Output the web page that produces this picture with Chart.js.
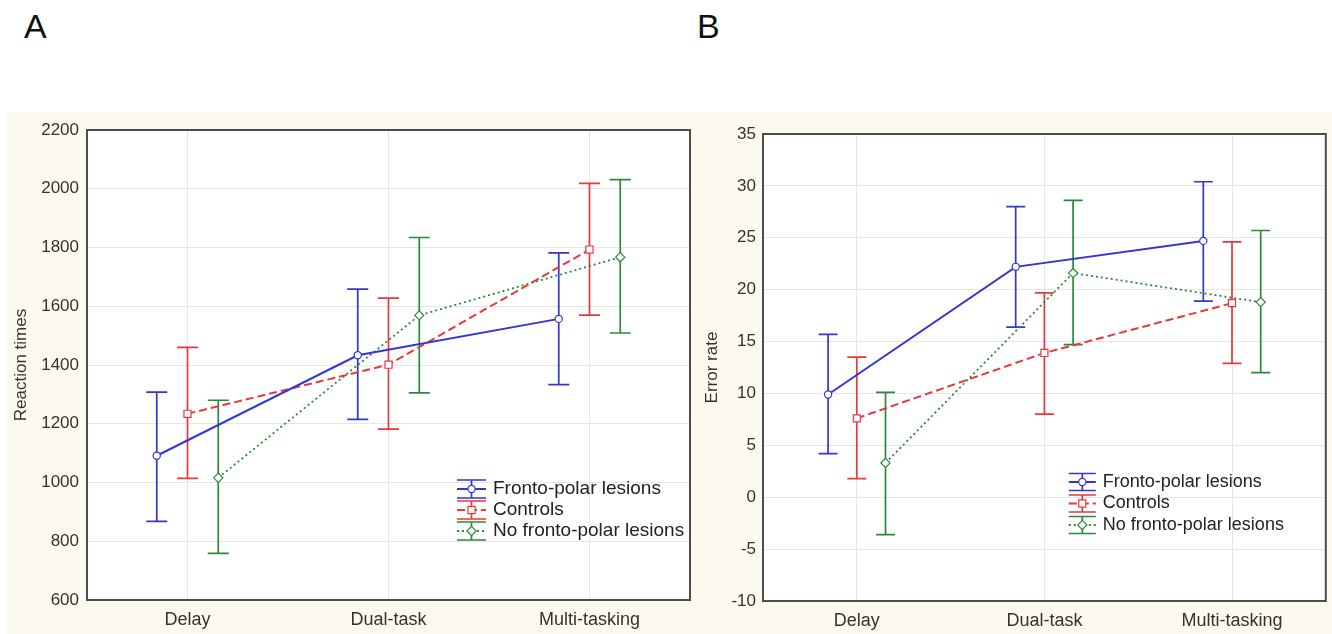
<!DOCTYPE html>
<html>
<head>
<meta charset="utf-8">
<script src="https://cdn.jsdelivr.net/npm/chart.js@4.4.1/dist/chart.umd.min.js"></script>
<style>
    html, body { margin: 0; padding: 0; background: #fff; }
    body { width: 1332px; height: 634px; position: relative; overflow: hidden; font-family: 'Liberation Sans', Arial, sans-serif; }
    .panel-bg { position: absolute; top: 112px; left: 7px; width: 1325px; height: 522px; background: #fcf9ee; }
    .letter { position: absolute; top: 6px; font-size: 34px; line-height: 40px; color: #111; }
    canvas { position: absolute; }
</style>
</head>
<body>
<div class="panel-bg"></div>
<div class="letter" style="left:24px">A</div>
<div class="letter" style="left:697px">B</div>
<canvas id="chartA" width="702" height="534" style="left:0;top:100px"></canvas>
<canvas id="chartB" width="632" height="534" style="left:700px;top:100px"></canvas>

<script>
// --- Data ---
const categories = ['Delay', 'Dual-task', 'Multi-tasking'];
const seriesNames = ['Fronto-polar lesions', 'Controls', 'No fronto-polar lesions'];

// A: reaction times (mean / lower / upper of the bar)
const rtFrontoMean  = [1091, 1433, 1557];
const rtFrontoLow   = [868, 1215, 1333];
const rtFrontoHigh  = [1308, 1658, 1782];
const rtControlMean = [1234, 1401, 1793];
const rtControlLow  = [1014, 1182, 1570];
const rtControlHigh = [1460, 1628, 2018];
const rtNoFpMean    = [1016, 1569, 1767];
const rtNoFpLow     = [759, 1305, 1509];
const rtNoFpHigh    = [1280, 1834, 2031];
const rtTicks = [600, 800, 1000, 1200, 1400, 1600, 1800, 2000, 2200];

// B: error rate
const erFrontoMean  = [9.9, 22.2, 24.7];
const erFrontoLow   = [4.2, 16.4, 18.9];
const erFrontoHigh  = [15.7, 28.0, 30.4];
const erControlMean = [7.6, 13.9, 18.7];
const erControlLow  = [1.8, 8.0, 12.9];
const erControlHigh = [13.5, 19.7, 24.6];
const erNoFpMean    = [3.3, 21.6, 18.8];
const erNoFpLow     = [-3.6, 14.7, 12.0];
const erNoFpHigh    = [10.1, 28.6, 25.7];
const erTicks = [-10, -5, 0, 5, 10, 15, 20, 25, 30, 35];

// --- Styles ---
const seriesShift = [-0.153, 0, 0.153];
const seriesStyle = [
    { color: '#3535d2', dash: [], marker: 'circle', radius: 3.6, width: 2 },
    { color: '#e5393c', dash: [8, 4], marker: 'rect', radius: 5, width: 2 },
    { color: '#2a8a3a', dash: [2, 3], marker: 'rectRot', radius: 4.6, width: 1.8 }
];

Chart.defaults.font.family = "'Liberation Sans', Arial, sans-serif";
Chart.defaults.font.size = 17;
Chart.defaults.color = '#333';

function drawMarker(ctx, style, r, x, y) {
    ctx.beginPath();
    if (style === 'circle') {
        ctx.arc(x, y, r, 0, Math.PI * 2);
    } else if (style === 'rect') {
        const s = r * Math.SQRT1_2;
        ctx.rect(x - s, y - s, 2 * s, 2 * s);
    } else {
        ctx.moveTo(x, y - r); ctx.lineTo(x + r, y); ctx.lineTo(x, y + r); ctx.lineTo(x - r, y); ctx.closePath();
    }
    ctx.fill();
    ctx.stroke();
}

// white plot area + dark frame
const plotFrame = {
    id: 'plotFrame',
    beforeDraw(chart) {
        const { ctx, chartArea: a } = chart;
        ctx.save();
        ctx.fillStyle = '#fff';
        ctx.fillRect(a.left, a.top, a.right - a.left, a.bottom - a.top);
        ctx.restore();
    },
    afterDraw(chart) {
        const { ctx, chartArea: a } = chart;
        ctx.save();
        ctx.strokeStyle = '#4d4d4d';
        ctx.lineWidth = 2;
        ctx.strokeRect(a.left, a.top, a.right - a.left, a.bottom - a.top);
        ctx.restore();
    }
};

// vertical error bars with caps
const errorBars = {
    id: 'errorBars',
    beforeDatasetsDraw(chart, args, opts) {
        const ctx = chart.ctx, ys = chart.scales.y;
        chart.data.datasets.forEach((ds, i) => {
            const meta = chart.getDatasetMeta(i);
            ctx.save();
            ctx.strokeStyle = ds.borderColor;
            ctx.lineWidth = 1.7;
            meta.data.forEach((pt, j) => {
                const top = ys.getPixelForValue(ds.errHigh[j]);
                const bot = ys.getPixelForValue(ds.errLow[j]);
                const hw = opts.cap / 2;
                ctx.beginPath();
                ctx.moveTo(pt.x, top); ctx.lineTo(pt.x, bot);
                ctx.moveTo(pt.x - hw, top); ctx.lineTo(pt.x + hw, top);
                ctx.moveTo(pt.x - hw, bot); ctx.lineTo(pt.x + hw, bot);
                ctx.stroke();
            });
            ctx.restore();
        });
    }
};

// legend with error-bar glyphs
const glyphLegend = {
    id: 'glyphLegend',
    afterDraw(chart, args, o) {
        const ctx = chart.ctx, a = chart.chartArea;
        chart.data.datasets.forEach((ds, i) => {
            const st = seriesStyle[i];
            const cy = a.bottom + o.top + i * o.gap;
            const x0 = a.right - o.fromRight, x1 = x0 + o.symbolWidth, cx = (x0 + x1) / 2;
            ctx.save();
            ctx.strokeStyle = st.color;
            ctx.lineWidth = 1.7;
            ctx.beginPath();
            ctx.moveTo(cx, cy - o.half); ctx.lineTo(cx, cy + o.half);
            ctx.moveTo(x0, cy - o.half); ctx.lineTo(x1, cy - o.half);
            ctx.moveTo(x0, cy + o.half); ctx.lineTo(x1, cy + o.half);
            ctx.stroke();
            ctx.setLineDash(st.dash);
            ctx.lineWidth = st.width;
            ctx.beginPath(); ctx.moveTo(x0, cy); ctx.lineTo(x1, cy); ctx.stroke();
            ctx.setLineDash([]);
            ctx.lineWidth = 1.2;
            ctx.fillStyle = '#fff';
            drawMarker(ctx, st.marker, st.radius, cx, cy);
            ctx.fillStyle = '#222';
            ctx.font = o.fontSize + "px 'Liberation Sans', Arial, sans-serif";
            ctx.textBaseline = 'middle';
            ctx.fillText(seriesNames[i], x1 + 7, cy);
            ctx.restore();
        });
    }
};

function buildSets(means, lows, highs) {
    return means.map((m, k) => ({
        label: seriesNames[k],
        data: m.map((v, i) => ({ x: i + seriesShift[k], y: v })),
        errLow: lows[k],
        errHigh: highs[k],
        borderColor: seriesStyle[k].color,
        borderWidth: seriesStyle[k].width,
        borderDash: seriesStyle[k].dash,
        pointStyle: seriesStyle[k].marker,
        pointRadius: seriesStyle[k].radius,
        pointBackgroundColor: '#fff',
        pointBorderColor: seriesStyle[k].color,
        pointBorderWidth: 1.2,
        tension: 0,
        fill: false
    }));
}

function makePanel(id, p) {
    new Chart(document.getElementById(id), {
        type: 'line',
        data: { datasets: buildSets(p.means, p.lows, p.highs) },
        plugins: [plotFrame, errorBars, glyphLegend],
        options: {
            responsive: false,
            animation: false,
            layout: { padding: p.padding },
            plugins: {
                legend: { display: false },
                tooltip: { enabled: false },
                errorBars: { cap: p.cap },
                glyphLegend: p.legend
            },
            scales: {
                x: {
                    type: 'linear',
                    min: -0.5,
                    max: 2.5,
                    afterBuildTicks: s => { s.ticks = categories.map((c, i) => ({ value: i })); },
                    afterFit: s => { s.height = p.xHeight; },
                    ticks: { padding: 9, color: '#333', font: { size: 18 }, callback: v => categories[v] },
                    grid: { color: '#e6e6e6', drawTicks: false },
                    border: { display: false }
                },
                y: {
                    min: p.ticks[0],
                    max: p.ticks[p.ticks.length - 1],
                    afterBuildTicks: s => { s.ticks = p.ticks.map(v => ({ value: v })); },
                    afterFit: s => { s.width = p.yWidth; },
                    ticks: { padding: p.tickPad, color: '#333', callback: v => String(v) },
                    grid: { color: '#e6e6e6', drawTicks: false },
                    border: { display: false },
                    title: { display: true, text: p.title, color: '#333', padding: { top: p.titlePad, bottom: 0 } }
                }
            }
        }
    });
}

makePanel('chartA', {
    means: [rtFrontoMean, rtControlMean, rtNoFpMean],
    lows: [rtFrontoLow, rtControlLow, rtNoFpLow],
    highs: [rtFrontoHigh, rtControlHigh, rtNoFpHigh],
    ticks: rtTicks,
    title: 'Reaction times',
    padding: { top: 30, right: 12, left: 0, bottom: 0 },
    yWidth: 87, xHeight: 34, tickPad: 8, titlePad: 11, cap: 21,
    legend: { top: -111, gap: 21, fromRight: 233, symbolWidth: 29, half: 9, fontSize: 19 }
});

makePanel('chartB', {
    means: [erFrontoMean, erControlMean, erNoFpMean],
    lows: [erFrontoLow, erControlLow, erNoFpLow],
    highs: [erFrontoHigh, erControlHigh, erNoFpHigh],
    ticks: erTicks,
    title: 'Error rate',
    padding: { top: 34, right: 6, left: 0, bottom: 0 },
    yWidth: 63, xHeight: 33, tickPad: 7, titlePad: 2, cap: 19,
    legend: { top: -119, gap: 21.5, fromRight: 257, symbolWidth: 27, half: 8.5, fontSize: 18 }
});
</script>
</body>
</html>
